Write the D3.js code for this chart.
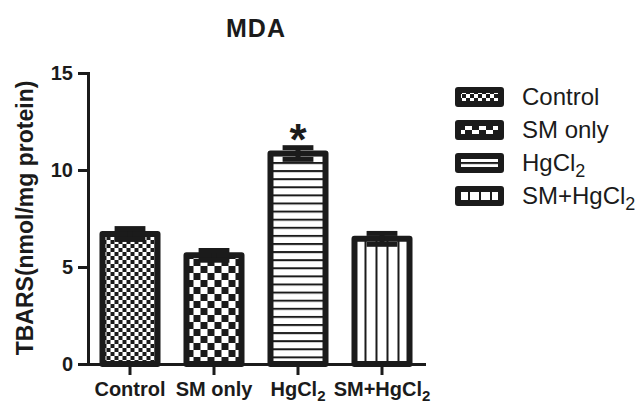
<!DOCTYPE html>
<html>
<head>
<meta charset="utf-8">
<script src="https://cdn.jsdelivr.net/npm/d3@7"></script>
<style>
  html, body { margin: 0; padding: 0; background: #fff; }
  svg { display: block; font-family: "Liberation Sans", Arial, sans-serif; }
</style>
</head>
<body>
<svg id="chart" width="643" height="404"></svg>
<script>
// Group names, means and error bars for the MDA (TBARS) assay
const categories = ["Control", "SM only", "HgCl2", "SM+HgCl2"];
const means = [6.7, 5.6, 10.85, 6.45];
const errors = [0.28, 0.25, 0.3, 0.28];
const marks = ["", "", "*", ""];
const yTicks = [0, 5, 10, 15];
const patternKinds = ["fineCheck", "coarseCheck", "hLines", "vLines"];

const ink = "#1b1b1b";
const svg = d3.select("#chart");
const defs = svg.append("defs");

const x = d3.scaleBand().domain(categories).range([88, 424])
  .paddingInner(0.345).paddingOuter(0.1725);
const y = d3.scaleLinear().domain([0, 15]).range([364, 73]);

// Fill patterns anchored at a given origin so each bar starts cleanly
function makePattern(id, kind, ox, oy) {
  let p;
  if (kind === "fineCheck") {
    p = defs.append("pattern").attr("id", id).attr("patternUnits", "userSpaceOnUse")
      .attr("x", ox).attr("y", oy).attr("width", 8).attr("height", 8);
    p.append("rect").attr("width", 8).attr("height", 8).attr("fill", "#fff");
    p.append("rect").attr("width", 4).attr("height", 4).attr("fill", ink);
    p.append("rect").attr("x", 4).attr("y", 4).attr("width", 4).attr("height", 4).attr("fill", ink);
  } else if (kind === "coarseCheck") {
    p = defs.append("pattern").attr("id", id).attr("patternUnits", "userSpaceOnUse")
      .attr("x", ox).attr("y", oy).attr("width", 14).attr("height", 14);
    p.append("rect").attr("width", 14).attr("height", 14).attr("fill", "#fff");
    p.append("rect").attr("width", 7).attr("height", 7).attr("fill", ink);
    p.append("rect").attr("x", 7).attr("y", 7).attr("width", 7).attr("height", 7).attr("fill", ink);
  } else if (kind === "hLines") {
    p = defs.append("pattern").attr("id", id).attr("patternUnits", "userSpaceOnUse")
      .attr("x", ox).attr("y", oy).attr("width", 8).attr("height", 8.1);
    p.append("rect").attr("width", 8).attr("height", 8.1).attr("fill", "#fff");
    p.append("rect").attr("y", 0).attr("width", 8).attr("height", 2).attr("fill", ink);
  } else {
    p = defs.append("pattern").attr("id", id).attr("patternUnits", "userSpaceOnUse")
      .attr("x", ox).attr("y", oy).attr("width", 11).attr("height", 8);
    p.append("rect").attr("width", 11).attr("height", 8).attr("fill", "#fff");
    p.append("rect").attr("x", -1).attr("width", 2).attr("height", 8).attr("fill", ink);
    p.append("rect").attr("x", 10).attr("width", 2).attr("height", 8).attr("fill", ink);
  }
  return "url(#" + id + ")";
}

// Text with a chemical subscript (Cl2 -> Cl₂)
function writeLabel(sel, label, subSize) {
  const m = label.match(/^(.*Cl)2$/);
  if (m) {
    sel.append("tspan").text(m[1]);
    sel.append("tspan").attr("dy", subSize * 0.35).attr("font-size", subSize).text("2");
  } else {
    sel.text(label);
  }
}

// Bars
const bars = svg.append("g");
categories.forEach((c, i) => {
  const bx = x(c), bw = x.bandwidth();
  const top = y(means[i]);
  const fill = makePattern("bar" + i, patternKinds[i], bx, 0);
  bars.append("rect")
    .attr("x", bx).attr("y", top)
    .attr("width", bw).attr("height", y(0) - top)
    .attr("fill", fill)
    .attr("stroke", ink).attr("stroke-width", 6)
    .attr("stroke-linejoin", "round");
});

// Error bars (both directions, capped)
const errG = svg.append("g").attr("stroke", ink).attr("stroke-width", 5);
categories.forEach((c, i) => {
  const cx = x(c) + x.bandwidth() / 2;
  const capW = x.bandwidth() * 0.56;
  const hi = y(means[i] + errors[i]), lo = y(means[i] - errors[i]);
  errG.append("line").attr("x1", cx).attr("x2", cx).attr("y1", hi).attr("y2", lo);
  errG.append("line").attr("x1", cx - capW / 2).attr("x2", cx + capW / 2).attr("y1", hi).attr("y2", hi);
  errG.append("line").attr("x1", cx - capW / 2).attr("x2", cx + capW / 2).attr("y1", lo).attr("y2", lo);
});

// Significance marks
categories.forEach((c, i) => {
  if (!marks[i]) return;
  svg.append("text")
    .attr("x", x(c) + x.bandwidth() / 2)
    .attr("y", y(means[i] + errors[i]) + 7)
    .attr("text-anchor", "middle")
    .attr("font-size", 44).attr("font-weight", "bold")
    .attr("fill", ink)
    .text(marks[i]);
});

// Y axis
const yAxis = svg.append("g").attr("transform", "translate(88,0)")
  .call(d3.axisLeft(y).tickValues(yTicks).tickSize(10).tickSizeOuter(0).tickPadding(5));
yAxis.select(".domain").attr("stroke", ink).attr("stroke-width", 3).attr("stroke-linecap", "square");
yAxis.selectAll(".tick line").attr("stroke", ink).attr("stroke-width", 3);
yAxis.selectAll(".tick text")
  .attr("font-size", 20).attr("font-weight", "bold").attr("fill", ink)
  .attr("font-family", "Liberation Sans, Arial, sans-serif");

// X axis
const xAxis = svg.append("g").attr("transform", "translate(0," + y(0) + ")")
  .call(d3.axisBottom(x).tickSize(11).tickSizeOuter(0));
xAxis.select(".domain").attr("stroke", ink).attr("stroke-width", 3).attr("stroke-linecap", "square");
xAxis.selectAll(".tick line").attr("stroke", ink).attr("stroke-width", 3);
xAxis.selectAll(".tick text").remove();
categories.forEach(c => {
  const t = svg.append("text")
    .attr("x", x(c) + x.bandwidth() / 2).attr("y", 396)
    .attr("text-anchor", "middle")
    .attr("font-size", 20).attr("font-weight", "bold").attr("fill", ink);
  writeLabel(t, c, 15);
});

// Y axis title
svg.append("text")
  .attr("transform", "translate(33,218) rotate(-90)")
  .attr("text-anchor", "middle")
  .attr("font-size", 23).attr("font-weight", "bold").attr("fill", ink)
  .text("TBARS(nmol/mg protein)");

// Chart title
svg.append("text")
  .attr("x", 256).attr("y", 37)
  .attr("text-anchor", "middle")
  .attr("font-size", 25).attr("font-weight", "bold").attr("fill", ink)
  .attr("letter-spacing", 1)
  .text("MDA");

// Legend
const legendRows = [97, 130, 163, 196];
categories.forEach((c, i) => {
  const sx = 458, sw = 43, sh = 14;
  const sy = legendRows[i] - sh / 2;
  const fill = makePattern("leg" + i, patternKinds[i], sx, sy + (patternKinds[i] === "hLines" ? 6 : 0));
  svg.append("rect")
    .attr("x", sx).attr("y", sy).attr("width", sw).attr("height", sh)
    .attr("fill", fill).attr("stroke", ink).attr("stroke-width", 6)
    .attr("stroke-linejoin", "round");
  const t = svg.append("text")
    .attr("x", 522).attr("y", legendRows[i] + 8)
    .attr("font-size", 24).attr("fill", ink);
  writeLabel(t, c, 18);
});
</script>
</body>
</html>
